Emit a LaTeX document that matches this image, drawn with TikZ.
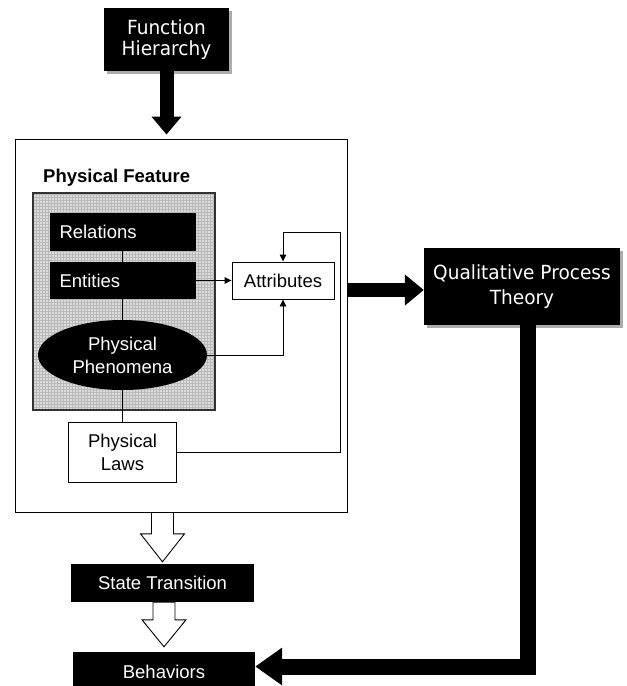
\documentclass[tikz,border=0pt]{standalone}
\usepackage{fontspec}
\setmainfont{Liberation Sans}
\newfontfamily\tahfont[FakeStretch=0.95]{DejaVu Sans}
\usetikzlibrary{arrows.meta,shadows,calc,shapes.geometric,patterns}

% hollow block arrow pointing down onto node #2, shaft starting at the
% lower edge #1; #3 = gap above the target, #4 = head length
\newcommand\hollowdown[4]{%
  \draw[hollowarrow] let \p1=(#1), \p2=(#2) in
    (\x2-11pt,\y1) -- (\x2+11pt,\y1) -- (\x2+11pt,\y2+#3pt+#4pt)
    -- (\x2+22pt,\y2+#3pt+#4pt) -- (\x2,\y2+#3pt)
    -- (\x2-22pt,\y2+#3pt+#4pt) -- (\x2-11pt,\y2+#3pt+#4pt) -- cycle;}

\begin{document}
\begin{tikzpicture}[x=1pt,y=-1pt,
  txt/.style={font=\fontsize{18.5}{23}\selectfont},
  blackbox/.style={rectangle,fill=black,text=white,inner sep=0pt,txt},
  whitebox/.style={rectangle,draw=black,line width=0.9pt,fill=white,inner sep=0pt,txt,align=center},
  headbox/.style={rectangle,fill=black,text=white,inner sep=0pt,align=center,
    drop shadow={shadow xshift=3pt,shadow yshift=-3pt,fill=gray!65,opacity=1}},
  conn/.style={line width=0.9pt},
  tip/.style={-{Triangle[length=7pt,width=6.5pt]}},
  hollowarrow/.style={draw=black,line width=0.9pt,fill=white,line join=miter},
  bigarrow/.style={line width=14pt,-{Triangle[length=18pt,width=29pt]}}
]
\clip (0,0) rectangle (627,686);
\fill[white] (0,0) rectangle (627,686);

% top source box
\node[headbox,minimum width=125pt,minimum height=63pt,
  font=\tahfont\fontsize{19.5}{21}\selectfont] (fh) at (166.5,39.5) {Function\\Hierarchy};

% physical feature frame
\node[draw=black,line width=0.9pt,minimum width=332pt,minimum height=373pt,inner sep=0pt]
  (outer) at (181,325.5) {};
\node[anchor=base west,inner sep=0pt,font=\fontsize{18.5}{22}\selectfont\bfseries]
  (pftitle) at (43,182) {Physical Feature};

% shaded group
\fill[gray!28] (33,193) rectangle (215,410);
\fill[pattern=grid,pattern color=gray!55] (33,193) rectangle (215,410);
\node[draw=black!80,line width=1.4pt,minimum width=182pt,minimum height=217pt,inner sep=0pt]
  (group) at (124,301.5) {};

\node[blackbox,minimum width=146pt,minimum height=38pt,text width=126pt,align=left]
  (rel) at (122.5,232) {Relations};
\node[blackbox,minimum width=146pt,minimum height=37pt,text width=126pt,align=left]
  (ent) at (122.5,280.5) {Entities};
\node[ellipse,fill=black,text=white,inner sep=0pt,minimum width=169pt,minimum height=70pt,
  txt,align=center] (phen) at (122.5,355) {Physical\\Phenomena};
\node[whitebox,minimum width=108pt,minimum height=60pt] (laws) at (122.5,452) {Physical\\Laws};
\node[whitebox,minimum width=102pt,minimum height=37pt] (attr) at (283,280.5) {Attributes};

% chain inside the group
\draw[conn] (rel) -- (ent);
\draw[conn] (ent) -- (phen);
\draw[conn] (phen) -- (laws);

% links to attributes
\draw[conn,tip] (ent.east) -- (attr.west);
\draw[conn,tip] (phen.east) -| (attr.south);
\coordinate (loop) at ($(attr.north)+(57,-29)$);
\draw[conn,tip] (laws.east) -| (loop) -| (attr.north);

% process theory box
\node[headbox,minimum width=196pt,minimum height=77pt,
  font=\tahfont\fontsize{19.5}{25}\selectfont] (qpt) at (522,286.5) {Qualitative Process\\Theory};

% lower boxes
\node[blackbox,minimum width=183pt,minimum height=38pt] (st) at (162.5,583) {State Transition};
\node[blackbox,minimum width=182pt,minimum height=39pt] (beh) at (164,671.5) {Behaviors};

% thick arrows
\draw[bigarrow] (fh.south) -- ([yshift=4pt]fh.south |- outer.north);
\coordinate (qin) at ([yshift=-3.5pt]qpt.west);
\draw[line width=14pt,-{Triangle[length=19pt,width=30pt]}]
  (outer.east |- qin) -- (qin);
\draw[line width=16pt,line join=miter,-{Triangle[length=27pt,width=36pt]}]
  ([xshift=6pt]qpt.south) |- ([yshift=5pt]beh.east);

% hollow arrows
\hollowdown{outer.south}{st.north}{2}{28}
\hollowdown{st.south}{beh.north}{5}{27}
\end{tikzpicture}
\end{document}
